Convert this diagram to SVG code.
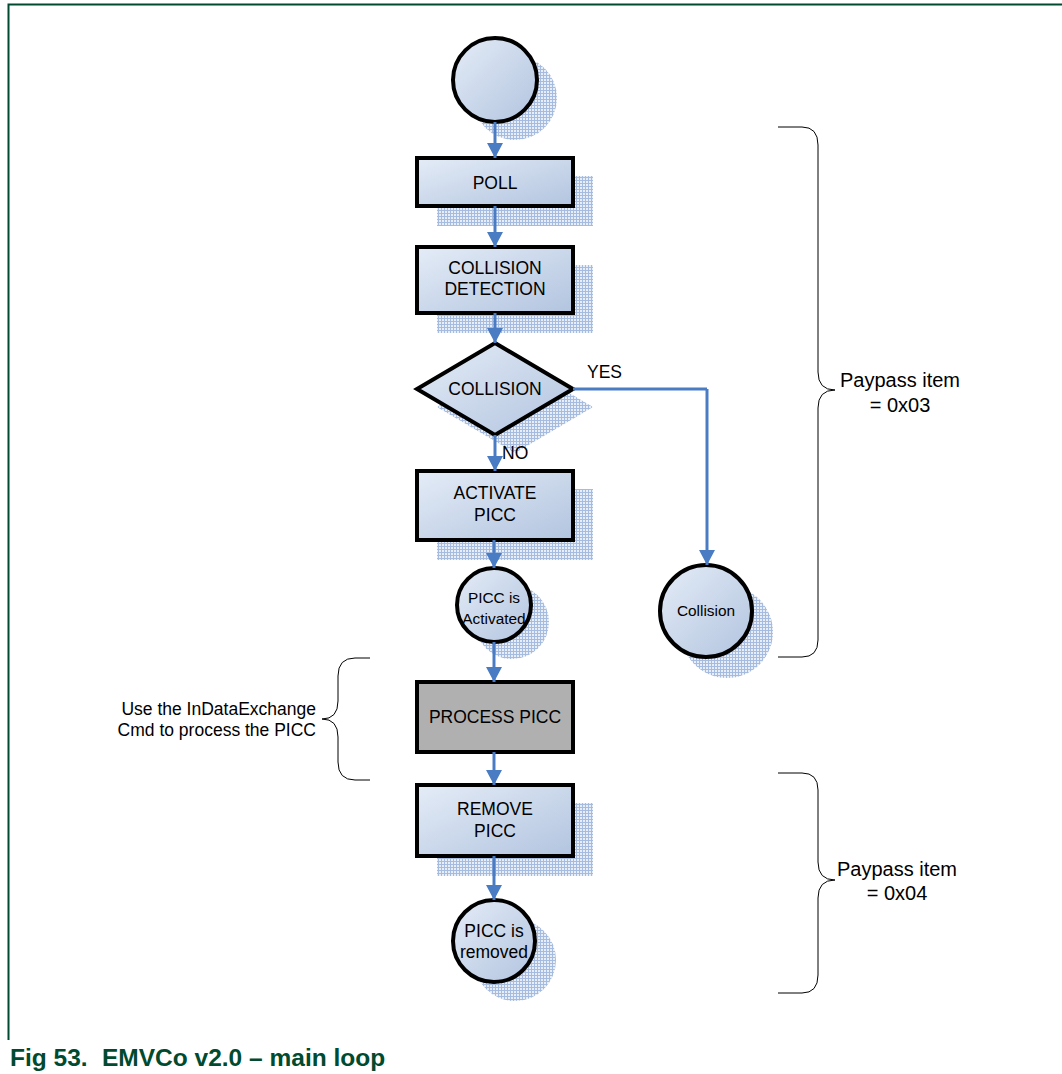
<svg xmlns="http://www.w3.org/2000/svg" width="1062" height="1074" viewBox="0 0 1062 1074">
<defs>
<linearGradient id="g" x1="0" y1="0" x2="1" y2="1">
<stop offset="0" stop-color="#e4ecf7"/>
<stop offset="1" stop-color="#b2c4df"/>
</linearGradient>
<pattern id="hatch" width="3" height="3" patternUnits="userSpaceOnUse">
<rect width="3" height="3" fill="#e8eef8"/>
<path d="M0 0.5H3M0.5 0V3" stroke="#a6bbe0" stroke-width="1"/>
</pattern>
<marker id="arr" markerWidth="16" markerHeight="16" refX="15" refY="8" orient="auto" markerUnits="userSpaceOnUse" viewBox="0 0 15 16">
<path d="M0 0L15 8L0 16z" fill="#4a7cc4"/>
</marker>
<style>
.n{fill:url(#g);stroke:#000;stroke-width:4}
.p{fill:#b0b0b0;stroke:#000;stroke-width:4}
.s{fill:url(#hatch)}
.t{font-family:"Liberation Sans",Arial,sans-serif;font-size:17.5px;fill:#000;text-anchor:middle}
.ts{font-family:"Liberation Sans",Arial,sans-serif;font-size:15.4px;fill:#000;text-anchor:middle}
.c{stroke:#4a7cc4;stroke-width:3;fill:none;marker-end:url(#arr)}
.b{stroke:#000;stroke-width:1;fill:none}
.l{font-family:"Liberation Sans",Arial,sans-serif;font-size:17.5px;fill:#000}
.pp{font-family:"Liberation Sans",Arial,sans-serif;font-size:20px;fill:#000;text-anchor:middle}
</style>
</defs>
<rect width="1062" height="1074" fill="#fff"/>
<path d="M8.5 1040V4.5H1062" fill="none" stroke="#004b2f" stroke-width="2"/>

<g id="start">
<circle class="s" cx="515" cy="98" r="42"/>
<circle class="n" cx="495" cy="80" r="42"/>
</g>
<g id="poll">
<rect class="s" x="437" y="176" width="156" height="50"/>
<rect class="n" x="417" y="158" width="156" height="48"/>
<text class="t" x="495" y="189">POLL</text>
</g>
<g id="colldet">
<rect class="s" x="437" y="265" width="156" height="68"/>
<rect class="n" x="417" y="247" width="156" height="66"/>
<text class="t" x="495" y="274">COLLISION</text>
<text class="t" x="495" y="295">DETECTION</text>
</g>
<g id="collision">
<path class="s" d="M515 361L593 407L515 453L437 407z"/>
<path class="n" d="M495 343L573 389L495 435L417 389z"/>
<text class="t" x="495" y="395">COLLISION</text>
</g>
<g id="activate">
<rect class="s" x="437" y="489" width="156" height="71"/>
<rect class="n" x="417" y="471" width="156" height="69"/>
<text class="t" x="495" y="499">ACTIVATE</text>
<text class="t" x="495" y="521">PICC</text>
</g>
<g id="activated">
<circle class="s" cx="512" cy="622" r="37"/>
<circle class="n" cx="494" cy="605" r="37"/>
<text class="ts" x="494" y="603">PICC is</text>
<text class="ts" x="494" y="624">Activated</text>
</g>
<g id="collend">
<circle class="s" cx="727" cy="632" r="46"/>
<circle class="n" cx="706" cy="611" r="46"/>
<text class="ts" x="706" y="616">Collision</text>
</g>
<g id="process">
<rect class="p" x="417" y="682" width="156" height="70"/>
<text class="t" x="495" y="723">PROCESS PICC</text>
</g>
<g id="remove">
<rect class="s" x="437" y="803" width="156" height="73"/>
<rect class="n" x="417" y="785" width="156" height="71"/>
<text class="t" x="495" y="815">REMOVE</text>
<text class="t" x="495" y="837">PICC</text>
</g>
<g id="removed">
<circle class="s" cx="515" cy="960" r="41"/>
<circle class="n" cx="494" cy="941" r="41"/>
<text class="t" x="494" y="937">PICC is</text>
<text class="t" x="494" y="958">removed</text>
</g>

<g id="connectors">
<path class="c" d="M495 122V158"/>
<path class="c" d="M495 206V247"/>
<path class="c" d="M495 313V343"/>
<path class="c" d="M495 435V471"/>
<path class="c" d="M707 389V565"/>
<path d="M573 389H707" stroke="#4a7cc4" stroke-width="3" fill="none"/>
<path class="c" d="M494 540V568"/>
<path class="c" d="M494 642V682"/>
<path class="c" d="M494 752V785"/>
<path class="c" d="M494 856V900"/>
<text class="l" x="587" y="378">YES</text>
<text class="l" x="502" y="459">NO</text>
</g>

<g id="brace1">
<path class="b" d="M778 127H802Q818 127 818 145V372Q818 390 835 390Q818 390 818 408V640Q818 657 802 657H778"/>
<text class="pp" x="900" y="387">Paypass item</text>
<text class="pp" x="900" y="412">= 0x03</text>
</g>
<g id="brace2">
<path class="b" d="M778 773H802Q818 773 818 790V862Q818 880 835 880Q818 880 818 898V975Q818 993 802 993H778"/>
<text class="pp" x="897" y="876">Paypass item</text>
<text class="pp" x="897" y="900">= 0x04</text>
</g>
<g id="brace3">
<path class="b" d="M370 658H355Q338 658 338 676V701Q338 719 322 719Q338 719 338 737V762Q338 780 355 780H370"/>
<text class="l" x="316" y="715" text-anchor="end">Use the InDataExchange</text>
<text class="l" x="316" y="736" text-anchor="end">Cmd to process the PICC</text>
</g>

<text x="10" y="1066" font-family="Liberation Sans,Arial,sans-serif" font-size="24.5" font-weight="bold" fill="#004b2f">Fig 53.<tspan x="102">EMVCo v2.0 – main loop</tspan></text>
</svg>
